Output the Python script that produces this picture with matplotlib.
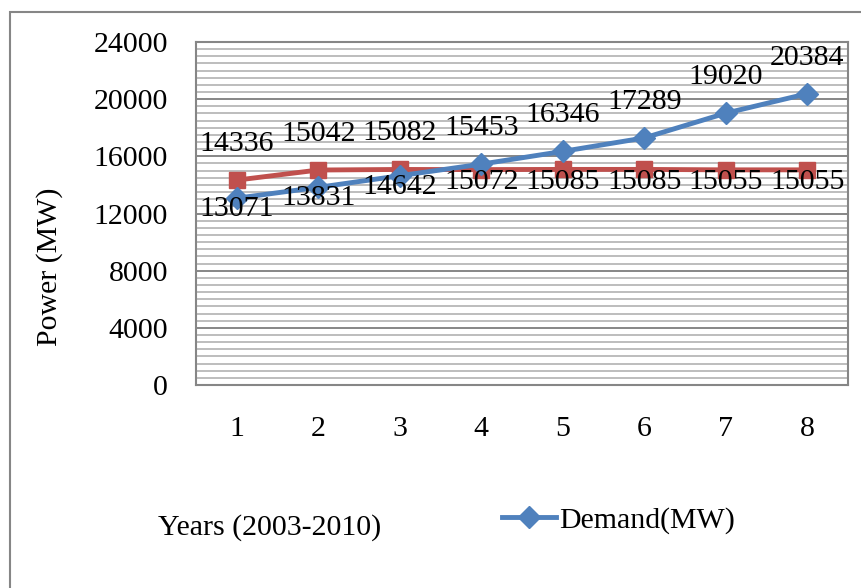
import numpy as np
import matplotlib.pyplot as plt
from matplotlib.patches import Rectangle
from matplotlib.ticker import MultipleLocator

plt.rcParams['font.family'] = ['Liberation Serif', 'DejaVu Serif']

years = [1, 2, 3, 4, 5, 6, 7, 8]
demand = [13071, 13831, 14642, 15453, 16346, 17289, 19020, 20384]
supply = [14336, 15042, 15082, 15072, 15085, 15085, 15055, 15055]

blue = '#4F81BD'
red = '#C0504D'
fs = 21.5

fig = plt.figure(figsize=(8.62, 5.88), dpi=100)
ax = fig.add_axes([196 / 862, 1 - 385 / 588, 652 / 862, 343 / 588])

ax.plot(years, supply, color=red, lw=3.5, marker='s', ms=12, zorder=3)
line_d, = ax.plot(years, demand, color=blue, lw=3.5, marker='D', ms=11, zorder=4,
                  label='Demand(MW)')

# labels: whichever series is higher at a year gets its label above
for x, d, s in zip(years, demand, supply):
    if d > s:
        ax.annotate(str(d), (x, d), xytext=(0, 26), textcoords='offset points',
                    ha='center', va='center', fontsize=fs, zorder=5)
        ax.annotate(str(s), (x, s), xytext=(0, -9), textcoords='offset points',
                    ha='center', va='center', fontsize=fs, zorder=5)
    else:
        ax.annotate(str(s), (x, s), xytext=(0, 26), textcoords='offset points',
                    ha='center', va='center', fontsize=fs, zorder=5)
        ax.annotate(str(d), (x, d), xytext=(0, -8), textcoords='offset points',
                    ha='center', va='center', fontsize=fs, zorder=5)

ax.set_xlim(0.5, 8.5)
ax.set_ylim(0, 24000)
ax.set_xticks(years)
ax.yaxis.set_major_locator(MultipleLocator(4000))
ax.yaxis.set_minor_locator(MultipleLocator(500))
ax.grid(True, which='major', axis='y', color='#868686', lw=1.4)
ax.grid(True, which='minor', axis='y', color='#BDBDBD', lw=1.4)
ax.set_axisbelow(True)
ax.tick_params(axis='both', which='both', length=0, labelsize=fs)
ax.tick_params(axis='y', pad=20)
ax.tick_params(axis='x', pad=22)
for sp in ax.spines.values():
    sp.set_color('#868686')
    sp.set_linewidth(1.5)

fig.text(50 / 862, 1 - 267 / 588, 'Power (MW)', rotation=90, ha='center',
         va='center', fontsize=fs)
fig.text(270 / 862, 1 - 528 / 588, 'Years (2003-2010)', ha='center',
         va='center', fontsize=fs)
fig.legend(handles=[line_d], loc='center left',
           bbox_to_anchor=(502 / 862, 1 - 520 / 588), frameon=False,
           fontsize=fs, handlelength=1.8, handletextpad=0.1,
           borderpad=0, borderaxespad=0)

fig.patches.append(Rectangle((10 / 862, -0.05), 1.1, 1.05 - 12 / 588,
                             transform=fig.transFigure, fill=False,
                             edgecolor='#868686', lw=1.5))

fig.savefig('out.png', dpi=100)
